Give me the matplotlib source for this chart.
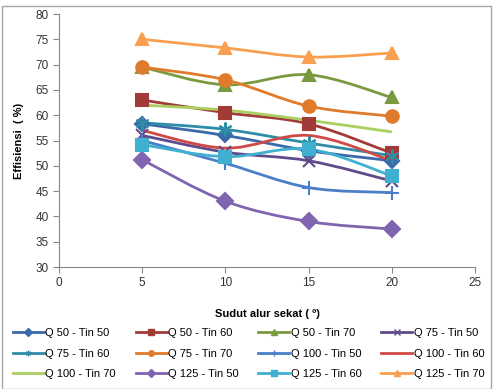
import numpy as np
import matplotlib
matplotlib.use('Agg')
import matplotlib.pyplot as plt
from matplotlib.path import Path
from matplotlib.patches import PathPatch, Rectangle
from matplotlib.lines import Line2D

plt.rcParams['font.family'] = ['Liberation Sans', 'DejaVu Sans']

sudut = [5, 10, 15, 20]
labels = ['Q 50 - Tin 50', 'Q 50 - Tin 60', 'Q 50 - Tin 70', 'Q 75 - Tin 50',
          'Q 75 - Tin 60', 'Q 75 - Tin 70', 'Q 100 - Tin 50', 'Q 100 - Tin 60',
          'Q 100 - Tin 70', 'Q 125 - Tin 50', 'Q 125 - Tin 60', 'Q 125 - Tin 70']
q50_tin50 = [58.3, 56.0, 53.0, 51.0]
q50_tin60 = [63.0, 60.5, 58.3, 52.5]
q50_tin70 = [69.5, 66.0, 68.0, 63.5]
q75_tin50 = [56.0, 52.7, 51.0, 47.0]
q75_tin60 = [58.5, 57.2, 54.5, 52.0]
q75_tin70 = [69.5, 67.0, 61.8, 59.8]
q100_tin50 = [55.0, 50.5, 45.7, 44.7]
q100_tin60 = [57.0, 53.5, 56.0, 51.0]
q100_tin70 = [62.0, 61.0, 59.0, 56.7]
q125_tin50 = [51.2, 43.0, 39.0, 37.5]
q125_tin60 = [54.2, 51.8, 53.3, 48.0]
q125_tin70 = [75.0, 73.3, 71.5, 72.3]

series = [q50_tin50, q50_tin60, q50_tin70, q75_tin50, q75_tin60, q75_tin70,
          q100_tin50, q100_tin60, q100_tin70, q125_tin50, q125_tin60, q125_tin70]
colors = ['#3B6AA8', '#A23B38', '#7A9A3F', '#5F4B8B', '#2E8CA8', '#E07B2C',
          '#4A7FC8', '#D04A45', '#A8CF60', '#8064B0', '#40B0D0', '#F8A050']
markers = ['D', 's', '^', 'x', (6, 2, 0), 'o', '+', None, None, 'D', 's', '^']
msizes = [7, 8, 8, 8, 10, 9, 10, 0, 0, 8, 8, 9]


def smooth_path(x, y):
    # excel-like smoothed line (catmull-rom as bezier)
    n = len(x)
    verts = [(x[0], y[0])]
    codes = [Path.MOVETO]
    for i in range(n - 1):
        a = max(i - 1, 0)
        b = min(i + 2, n - 1)
        c1 = (x[i] + (x[i + 1] - x[a]) / 6, y[i] + (y[i + 1] - y[a]) / 6)
        c2 = (x[i + 1] - (x[b] - x[i]) / 6, y[i + 1] - (y[b] - y[i]) / 6)
        verts += [c1, c2, (x[i + 1], y[i + 1])]
        codes += [Path.CURVE4] * 3
    return Path(verts, codes)


fig = plt.figure(figsize=(4.94, 3.89), dpi=100)
fig.patches.append(Rectangle((0.004, 0.0), 0.99, 0.985, transform=fig.transFigure,
                             fill=False, edgecolor='#A6A6A6', linewidth=1.0))
ax = fig.add_axes([0.1194, 0.3136, 0.8421, 0.6504])

handles = []
for vals, c, m, ms, lab in zip(series, colors, markers, msizes, labels):
    ax.add_patch(PathPatch(smooth_path(sudut, vals), facecolor='none',
                           edgecolor=c, linewidth=2.0, zorder=2))
    if m is not None:
        ax.plot(sudut, vals, linestyle='none', marker=m, markersize=ms,
                color=c, markeredgecolor=c, markeredgewidth=1.5, zorder=3)
    handles.append(Line2D([], [], color=c, linewidth=2.0, marker=m,
                          markersize=4, markeredgewidth=1.0, label=lab))

ax.set_xlim(0, 25)
ax.set_ylim(30, 80)
ax.set_xticks(np.arange(0, 26, 5))
ax.set_yticks(np.arange(30, 81, 5))
for s in ['top', 'right']:
    ax.spines[s].set_visible(False)
for s in ['left', 'bottom']:
    ax.spines[s].set_color('#868686')
    ax.spines[s].set_linewidth(0.8)
ax.tick_params(axis='both', colors='#868686', labelcolor='#333333',
               labelsize=8.5, length=4, width=0.8)

ax.set_xlabel('Sudut alur sekat ( º)', fontsize=8, fontweight='bold', labelpad=14)
ax.set_ylabel('Effisiensi  ( %)', fontsize=8, fontweight='bold', labelpad=8)

# legend filled row by row like excel
order = [r * 4 + c for c in range(4) for r in range(3)]
fig.legend(handles=[handles[i] for i in order], ncol=4, loc='upper center',
           bbox_to_anchor=(0.503, 0.168), frameon=False, fontsize=8,
           handlelength=2.8, handletextpad=0.1, columnspacing=1.8,
           labelspacing=0.95, borderaxespad=0)

fig.savefig('out.png', dpi=100)
